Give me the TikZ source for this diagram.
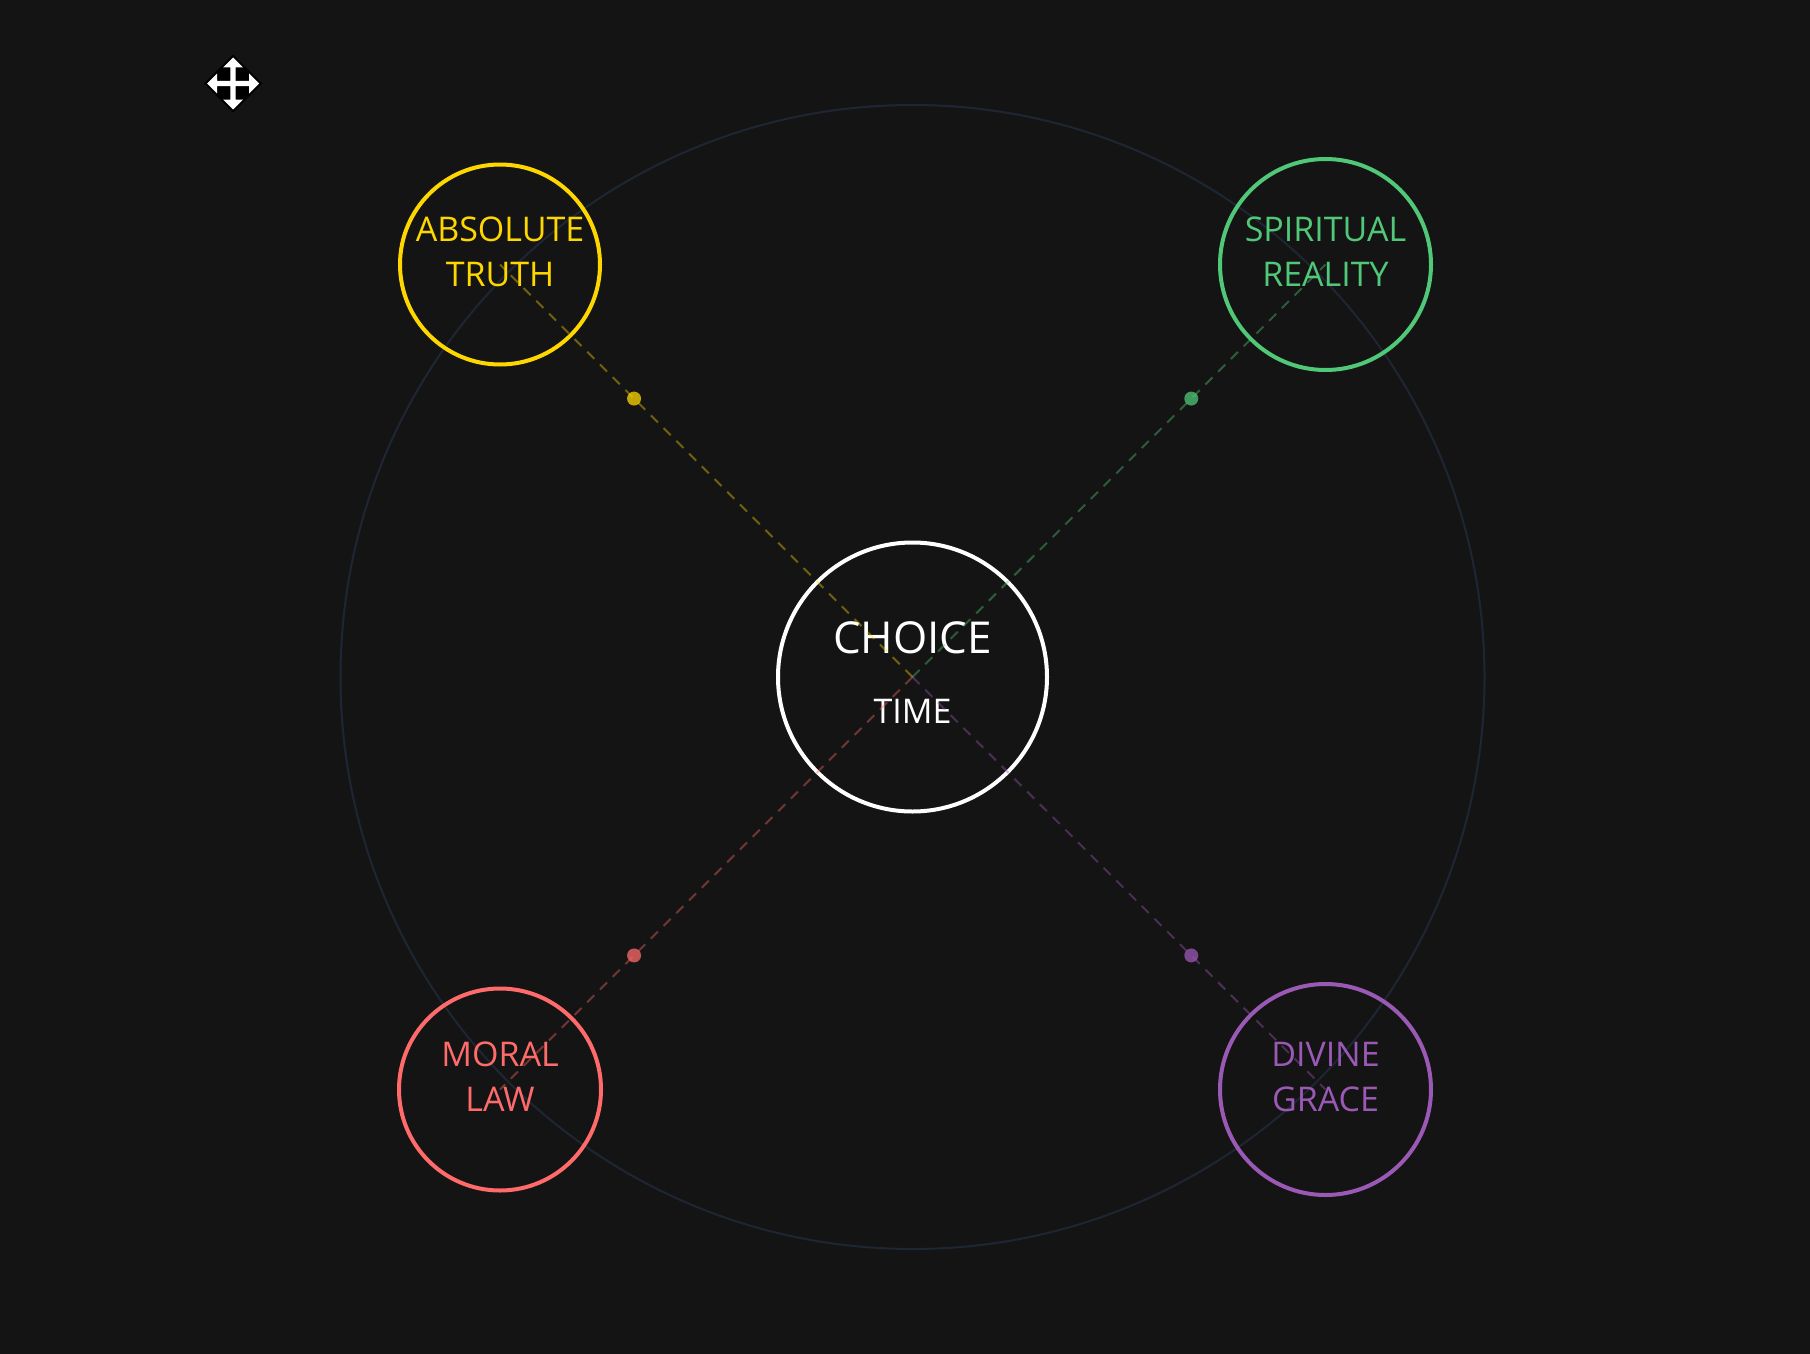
\documentclass[tikz,border=0pt]{standalone}
\usepackage{fontspec}
\setmainfont{Open Sans}
\usetikzlibrary{calc}
\definecolor{bgc}{HTML}{141414}
\definecolor{ringc}{HTML}{1E2633}
\definecolor{cyel}{HTML}{FFD700}
\definecolor{cgrn}{HTML}{50C878}
\definecolor{cred}{HTML}{FF6B6B}
\definecolor{cpur}{HTML}{9B59B6}
\tikzset{
  pillar/.style={circle, draw=#1, line width=4pt, inner sep=0pt},
  pillartext/.style={text=#1, font=\fontsize{34}{34}\selectfont, anchor=base, inner sep=0pt},
  dashline/.style={draw=#1, draw opacity=0.4, line width=2pt, dash pattern=on 10pt off 8pt},
  pdot/.style={circle, fill=#1, fill opacity=0.75, minimum size=14pt, inner sep=0pt},
}
\begin{document}
\begin{tikzpicture}[x=1pt,y=-1pt]
\useasboundingbox (0,0) rectangle (1810,1354);
\fill[bgc] (0,0) rectangle (1810,1354);
% outer ring
\node[circle, draw=ringc, line width=2pt, minimum size=1144pt, inner sep=0pt] (ring) at (912.5,677) {};
% pillars
\node[pillar=cyel, minimum size=200pt] (truth) at (500,264.5) {};
\node[pillar=cgrn, minimum size=211pt] (spirit) at (1325.5,264.5) {};
\node[pillar=cred, minimum size=202pt] (moral) at (500,1089.5) {};
\node[pillar=cpur, minimum size=211pt] (grace) at (1325.5,1089.5) {};
\node[pillar=white, minimum size=269pt] (choice) at (912.5,677) {};
% labels
\node[pillartext=cyel] (t1) at (500,241.5) {ABSOLUTE};
\node[pillartext=cyel] (t2) at (500,286.5) {TRUTH};
\node[pillartext=cgrn] (s1) at (1325.5,241.5) {SPIRITUAL};
\node[pillartext=cgrn] (s2) at (1325.5,286.5) {REALITY};
\node[pillartext=cred] (m1) at (500,1066.5) {MORAL};
\node[pillartext=cred] (m2) at (500,1111.5) {LAW};
\node[pillartext=cpur] (g1) at (1325.5,1066.5) {DIVINE};
\node[pillartext=cpur] (g2) at (1325.5,1111.5) {GRACE};
\node[text=white, font=\fontsize{44}{44}\selectfont, anchor=base, inner sep=0pt] (ch) at (912.5,653) {CHOICE};
\node[text=white, font=\fontsize{34}{34}\selectfont, anchor=base, inner sep=0pt] (tm) at (912.5,723) {TIME};
% connectors
\draw[dashline=cyel] (choice.center) -- (truth.center);
\draw[dashline=cgrn] (choice.center) -- (spirit.center);
\draw[dashline=cred] (choice.center) -- (moral.center);
\draw[dashline=cpur] (choice.center) -- (grace.center);
% dots
\node[pdot=cyel] (d1) at ($(choice.center)!0.675!(truth.center)$) {};
\node[pdot=cgrn] (d2) at ($(choice.center)!0.675!(spirit.center)$) {};
\node[pdot=cred] (d3) at ($(choice.center)!0.675!(moral.center)$) {};
\node[pdot=cpur] (d4) at ($(choice.center)!0.675!(grace.center)$) {};
% move icon
\begin{scope}[shift={(233,83.5)}]
\fill[black] (0,-29) -- (29,0) -- (0,29) -- (-29,0) -- cycle;
\fill[white] (0,-26) -- (10,-16) -- (2.7,-16) -- (2.7,-2.7) -- (16,-2.7) -- (16,-10) -- (26,0) -- (16,10) -- (16,2.7) -- (2.7,2.7) -- (2.7,16) -- (10,16) -- (0,26) -- (-10,16) -- (-2.7,16) -- (-2.7,2.7) -- (-16,2.7) -- (-16,10) -- (-26,0) -- (-16,-10) -- (-16,-2.7) -- (-2.7,-2.7) -- (-2.7,-16) -- (-10,-16) -- cycle;
\end{scope}
\end{tikzpicture}
\end{document}
